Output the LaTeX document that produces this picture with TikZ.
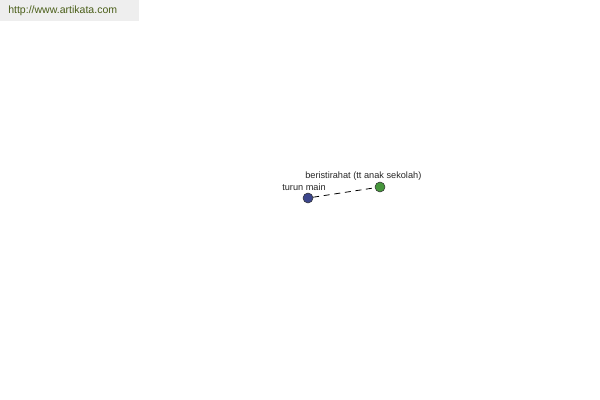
\documentclass[tikz,border=0pt]{standalone}
\usepackage{fontspec}
\setmainfont{Liberation Sans}
\definecolor{bannergrey}{RGB}{238,238,238}
\definecolor{bannertext}{RGB}{74,94,24}
\definecolor{dotblue}{RGB}{60,70,140}
\definecolor{dotgreen}{RGB}{70,150,60}
\begin{document}
\begin{tikzpicture}[x=0.75pt,y=-0.75pt, inner sep=0pt]
\tikzset{
  dot/.style={circle, minimum size=7.5pt, draw=black!80, thin},
  lbl/.style={font=\fontsize{6.9}{7}\selectfont, text=black!85}
}
\useasboundingbox (0,0) rectangle (600,400);
\fill[bannergrey] (0,0) rectangle (139,21);
\node (site) at (8,11) [anchor=west, text=bannertext, font=\fontsize{7.9}{9}\selectfont] {http://www.artikata.com};
\node (a) at (308,198) [dot, fill=dotblue] {};
\node (b) at (380,187) [dot, fill=dotgreen] {};
\node (la) at (326,187) [lbl, anchor=east] {turun main};
\node (lb) at (305,176) [lbl, anchor=west] {beristirahat (tt anak sekolah)};
\draw[line width=0.6pt, dash pattern=on 4.5pt off 3.5pt] (a) -- (b);
\end{tikzpicture}
\end{document}
